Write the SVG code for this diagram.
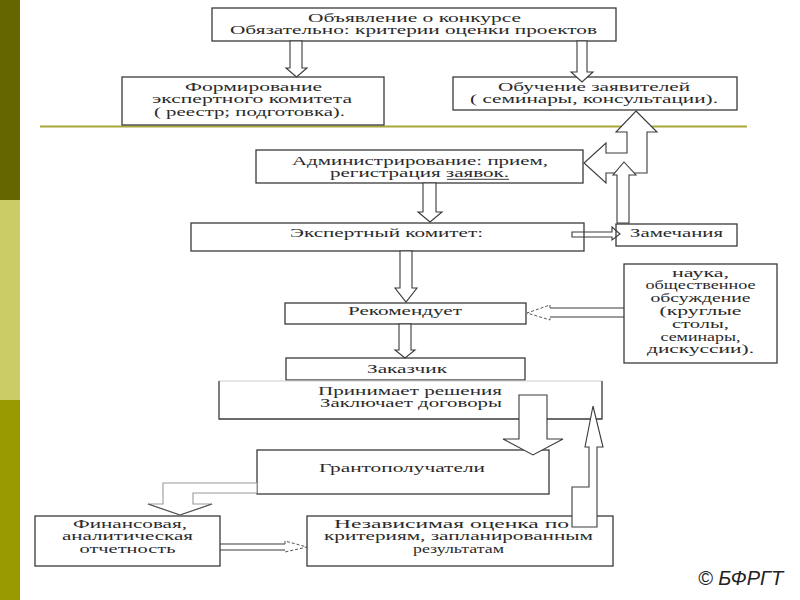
<svg xmlns="http://www.w3.org/2000/svg" width="800" height="600" viewBox="0 0 800 600">
<defs>
<style>
.bx{fill:#fff;stroke:#3a3a3a;stroke-width:1.3}
.t{font-family:"Liberation Serif","DejaVu Serif",serif;font-size:11.5px;fill:#2a2a2a}
.ar{fill:#fff;stroke:#3a3a3a;stroke-width:1.1;stroke-linejoin:miter}
.arn{fill:none;stroke:#3a3a3a;stroke-width:1.1}
.lt{fill:#fff;stroke:#9a9a9a;stroke-width:1.1}
.dh{fill:none;stroke:#555;stroke-width:1;stroke-dasharray:3 2}
</style>
</defs>
<rect width="800" height="600" fill="#fff"/>
<g id="sidebar">
<rect x="0" y="0" width="20" height="200" fill="#666600"/>
<rect x="0" y="200" width="20" height="200" fill="#cccc66"/>
<rect x="0" y="400" width="20" height="200" fill="#999900"/>
</g>
<line x1="40" y1="126.5" x2="747" y2="126.5" stroke="#a8a838" stroke-width="2"/>

<g id="n-announce">
<rect class="bx" x="212" y="8" width="404" height="33"/>
<text class="t" x="308" y="21.5" textLength="213" lengthAdjust="spacingAndGlyphs">Объявление о конкурсе</text>
<text class="t" x="230" y="34.3" textLength="367" lengthAdjust="spacingAndGlyphs">Обязательно: критерии оценки проектов</text>
</g>
<g id="n-forming">
<rect class="bx" x="122" y="77" width="262" height="48"/>
<text class="t" x="185" y="90.5" textLength="137" lengthAdjust="spacingAndGlyphs">Формирование</text>
<text class="t" x="152" y="103.3" textLength="200" lengthAdjust="spacingAndGlyphs">экспертного комитета</text>
<text class="t" x="154" y="116.1" textLength="191" lengthAdjust="spacingAndGlyphs">( реестр; подготовка).</text>
</g>
<g id="n-training">
<rect class="bx" x="453" y="77" width="284" height="33"/>
<text class="t" x="498" y="90.5" textLength="192" lengthAdjust="spacingAndGlyphs">Обучение заявителей</text>
<text class="t" x="470" y="103.3" textLength="248" lengthAdjust="spacingAndGlyphs">( семинары, консультации).</text>
</g>
<g id="n-admin">
<rect class="bx" x="256" y="150" width="327" height="33"/>
<text class="t" x="292" y="164.5" textLength="256" lengthAdjust="spacingAndGlyphs">Администрирование: прием,</text>
<text class="t" x="330" y="177.3" textLength="179" lengthAdjust="spacingAndGlyphs">регистрация заявок.</text>
<line x1="447" y1="179.3" x2="509" y2="179.3" stroke="#2a2a2a" stroke-width="0.9"/>
</g>
<g id="n-expert">
<rect class="bx" x="191" y="223" width="393" height="28"/>
<text class="t" x="290" y="237" textLength="193" lengthAdjust="spacingAndGlyphs">Экспертный комитет:</text>
</g>
<g id="n-remarks">
<rect class="bx" x="616" y="224" width="121" height="22"/>
<text class="t" x="630" y="237" textLength="93" lengthAdjust="spacingAndGlyphs">Замечания</text>
</g>
<g id="n-recommends">
<rect class="bx" x="285" y="303" width="241" height="21"/>
<text class="t" x="348" y="315" textLength="114" lengthAdjust="spacingAndGlyphs">Рекомендует</text>
</g>
<g id="n-science">
<rect class="bx" x="624" y="264" width="153" height="99"/>
<text class="t" x="700.5" y="276.5" text-anchor="middle" textLength="57" lengthAdjust="spacingAndGlyphs">наука,</text>
<text class="t" x="700.5" y="289.3" text-anchor="middle" textLength="110" lengthAdjust="spacingAndGlyphs">общественное</text>
<text class="t" x="700.5" y="302.1" text-anchor="middle" textLength="100" lengthAdjust="spacingAndGlyphs">обсуждение</text>
<text class="t" x="700.5" y="314.9" text-anchor="middle" textLength="82" lengthAdjust="spacingAndGlyphs">(круглые</text>
<text class="t" x="700.5" y="327.7" text-anchor="middle" textLength="57" lengthAdjust="spacingAndGlyphs">столы,</text>
<text class="t" x="700.5" y="340.5" text-anchor="middle" textLength="80" lengthAdjust="spacingAndGlyphs">семинары,</text>
<text class="t" x="700.5" y="353.3" text-anchor="middle" textLength="107" lengthAdjust="spacingAndGlyphs">дискуссии).</text>
</g>
<g id="n-customer">
<rect class="bx" x="286" y="358" width="239" height="22"/>
<text class="t" x="367" y="372.5" textLength="80" lengthAdjust="spacingAndGlyphs">Заказчик</text>
</g>
<g id="n-decides">
<rect x="219" y="381" width="383" height="38" fill="#fff"/>
<path d="M219,381 H602" fill="none" stroke="#cfcfcf" stroke-width="1"/>
<path d="M219,381 V419 H602 V381" fill="none" stroke="#3a3a3a" stroke-width="1.3"/>
<text class="t" x="318" y="394.5" textLength="184" lengthAdjust="spacingAndGlyphs">Принимает решения</text>
<text class="t" x="320" y="407.3" textLength="182" lengthAdjust="spacingAndGlyphs">Заключает договоры</text>
</g>
<g id="n-grantees">
<rect class="bx" x="257" y="450" width="292" height="44"/>
<text class="t" x="319" y="472" textLength="166" lengthAdjust="spacingAndGlyphs">Грантополучатели</text>
</g>
<g id="n-reporting">
<rect class="bx" x="35" y="516" width="185" height="50"/>
<text class="t" x="73" y="527.5" textLength="114" lengthAdjust="spacingAndGlyphs">Финансовая,</text>
<text class="t" x="62" y="540.3" textLength="131" lengthAdjust="spacingAndGlyphs">аналитическая</text>
<text class="t" x="127.5" y="553.1" text-anchor="middle" textLength="96" lengthAdjust="spacingAndGlyphs">отчетность</text>
</g>
<g id="n-evaluation">
<rect class="bx" x="307" y="516" width="306" height="50"/>
<text class="t" x="334" y="527.5" textLength="235" lengthAdjust="spacingAndGlyphs">Независимая оценка по</text>
<text class="t" x="324" y="540.3" textLength="269" lengthAdjust="spacingAndGlyphs">критериям, запланированным</text>
<text class="t" x="413" y="553.1" textLength="91" lengthAdjust="spacingAndGlyphs">результатам</text>
</g>

<g id="connectors">
<polygon class="ar" points="290,41 302,41 302,68 307,68 296.5,77 286,68 290,68"/>
<polygon class="ar" points="577,41 587,41 587,72 593,72 582,82 571,72 577,72"/>
<polygon class="ar" points="636,111 657,132 647,132 647,173 606,173 606,183 584,163 606,143 606,153 627,153 627,132 616,132"/>
<polygon class="ar" points="617,223 617,175 613,175 624,162 636,175 629,175 629,223"/>
<polygon class="ar" points="423,183 436,183 436,212 442,212 430,222 418,212 423,212"/>
<polygon class="arn" points="572,232 612,232 612,227 620,234 612,240 612,237 572,237"/>
<polygon class="ar" points="400,251 412,251 412,288 417,288 406,302 395,288 400,288"/>
<path class="arn" d="M624,308 H550 M624,317 H550"/>
<path class="dh" d="M550,308 V305 L527,313 L550,320 V317"/>
<polygon class="ar" points="399,324 411,324 411,350 415,350 405,358 395,350 399,350"/>
<polygon class="ar" points="519,395 547,395 547,439 563,439 533,455 503,439 519,439"/>
<polygon class="ar" points="572,527 572,487 589,487 589,447 585,447 593,406 603,447 597,447 597,527"/>
<polygon class="lt" points="257,483 163,483 163,504 148,504 180,515 212,504 193,504 193,493 257,493"/>
<path d="M148,504 L180,515 L212,504" fill="none" stroke="#555" stroke-width="1.1"/>
<path class="arn" d="M220,544 H285 M220,550 H285"/>
<path class="dh" d="M285,544 V541 L307,547 L285,552 V550"/>
</g>

<text x="698" y="585" font-family="Liberation Sans, Arial, sans-serif" font-size="20" font-style="italic" fill="#222">© БФРГТ</text>
</svg>
